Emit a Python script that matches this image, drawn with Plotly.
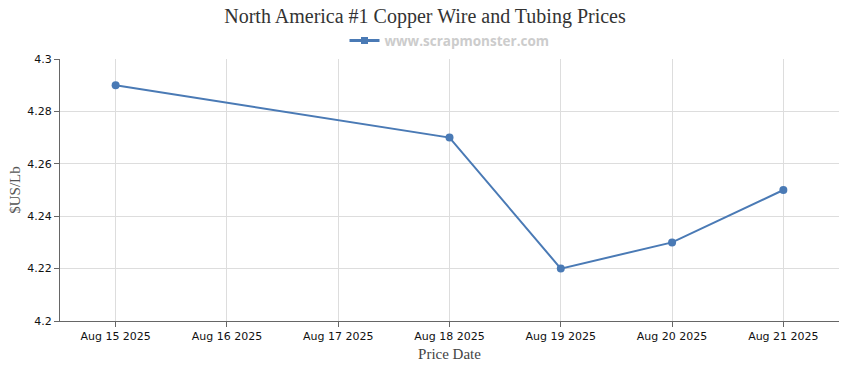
import plotly.graph_objects as go

dates = ["2025-08-15", "2025-08-18", "2025-08-19", "2025-08-20", "2025-08-21"]
prices = [4.29, 4.27, 4.22, 4.23, 4.25]
tick_dates = ["2025-08-15", "2025-08-16", "2025-08-17", "2025-08-18",
              "2025-08-19", "2025-08-20", "2025-08-21"]
tick_labels = ["Aug 15 2025", "Aug 16 2025", "Aug 17 2025", "Aug 18 2025",
               "Aug 19 2025", "Aug 20 2025", "Aug 21 2025"]
y_ticks = [4.2, 4.22, 4.24, 4.26, 4.28, 4.3]
y_labels = ["4.2", "4.22", "4.24", "4.26", "4.28", "4.3"]
series_name = "www.scrapmonster.com"
line_color = "#4a7ab5"

fig = go.Figure()
fig.add_trace(go.Scatter(
    x=dates, y=prices, mode="lines+markers",
    line=dict(color=line_color, width=2),
    marker=dict(color=line_color, size=8, symbol="circle"),
    showlegend=False, name=series_name,
))
fig.add_trace(go.Scatter(
    x=[None], y=[None], mode="lines+markers",
    line=dict(color=line_color, width=3),
    marker=dict(color=line_color, size=7, symbol="square"),
    name=series_name, showlegend=True,
))

axis_common = dict(
    showline=True, linecolor="#666666", linewidth=1,
    ticks="outside", ticklen=5, tickcolor="#666666",
    showgrid=True, gridcolor="#dddddd", gridwidth=1,
    zeroline=False, automargin=False,
    tickfont=dict(family="DejaVu Sans, Verdana, sans-serif", size=11, color="#111111"),
)

fig.update_layout(
    width=850, height=370,
    margin=dict(l=60, r=11, t=59, b=49),
    paper_bgcolor="white", plot_bgcolor="white",
    title=dict(
        text="North America #1 Copper Wire and Tubing Prices",
        x=0.5, xanchor="center", yref="container", y=0.957, yanchor="middle",
        font=dict(family="Liberation Serif, Times New Roman, serif", size=20, color="#333333"),
    ),
    legend=dict(
        orientation="h", x=0.5, xanchor="center",
        yref="container", y=0.89, yanchor="middle",
        font=dict(family="Open Sans, Verdana, sans-serif", size=13.5, color="#cccccc", weight="bold"),
        bgcolor="rgba(0,0,0,0)", itemwidth=30,
    ),
    xaxis=dict(
        **axis_common,
        range=["2025-08-14 12:00", "2025-08-21 12:00"],
        tickmode="array", tickvals=tick_dates, ticktext=tick_labels,
        title=dict(text="Price Date", standoff=6,
                   font=dict(family="Liberation Serif, Times New Roman, serif", size=15, color="#444444")),
    ),
    yaxis=dict(
        **axis_common,
        range=[4.2, 4.3],
        tickmode="array", tickvals=y_ticks, ticktext=y_labels,
        title=dict(text="$US/Lb", standoff=2.5,
                   font=dict(family="Liberation Serif, Times New Roman, serif", size=15, color="#555555")),
    ),
)

fig.write_html("out.html", config={"displayModeBar": False},
               post_script="document.body.style.margin='0';")
